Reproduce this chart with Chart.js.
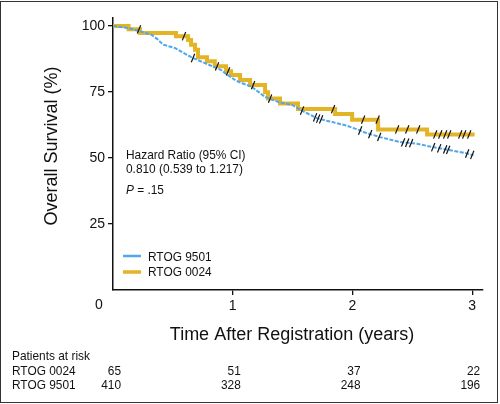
<!DOCTYPE html>
<html>
<head>
<meta charset="utf-8">
<script src="https://cdn.jsdelivr.net/npm/chart.js@4/dist/chart.umd.min.js"></script>
<style>
  body { margin: 0; background: #fff; }
  #wrap { position: relative; width: 500px; height: 404px; }
  #frame { position: absolute; left: 0; top: 1px; width: 498px; height: 402px; box-sizing: border-box; border: 1.5px solid #333; pointer-events: none; }
  canvas { position: absolute; left: 0; top: 0; }
</style>
</head>
<body>
<div id="wrap">
  <canvas id="km" width="500" height="404"></canvas>
  <div id="frame"></div>
</div>
<script>
// RTOG 0024 step curve: time of drop (years) and survival after it (%)
const yellowTimes = [0, 0.13, 0.226, 0.526, 0.627, 0.652, 0.685, 0.71, 0.785, 0.85, 0.944, 0.986, 1.061, 1.145, 1.27, 1.295, 1.395, 1.545, 1.855, 1.997, 2.214, 2.623, 3.02]
const yellowSurv = [100, 98.7, 97.3, 96.1, 94.7, 92.9, 91.0, 88.1, 86.6, 84.7, 82.8, 81.4, 79.5, 77.6, 74.9, 72.5, 70.6, 68.5, 66.6, 64.5, 60.8, 58.9, 58.9]
// RTOG 9501, read along the (many small steps) curve
const blueTimes = [0, 0.13, 0.21, 0.32, 0.37, 0.42, 0.52, 0.6, 0.67, 0.8, 0.9, 0.94, 1.03, 1.16, 1.27, 1.38, 1.5, 1.6, 1.71, 1.83, 1.94, 2.06, 2.09, 2.23, 2.4, 2.54, 2.67, 2.82, 2.95, 3.01]
const blueSurv = [100, 99.2, 98.2, 96.7, 95.0, 92.9, 91.6, 89.5, 87.8, 85.3, 83.4, 82.0, 79.2, 76.9, 73.1, 71.2, 70.0, 67.4, 64.9, 63.6, 62.4, 60.5, 59.8, 57.9, 56.0, 55.4, 54.1, 52.9, 51.8, 51.0]
// censoring marks (years)
const yellowCensor = [0.217, 0.593, 0.869, 0.961, 1.17, 1.312, 1.838, 2.089, 2.21, 2.373, 2.457, 2.549, 2.691, 2.733, 2.774, 2.808, 2.9, 2.933, 2.975]
const blueCensor = [0.668, 1.579, 1.688, 1.713, 1.738, 2.064, 2.148, 2.223, 2.423, 2.457, 2.49, 2.674, 2.724, 2.774, 2.799, 2.958, 3.0]

const xTicks = [0, 1, 2, 3]
const yTicks = [25, 50, 75, 100]
const riskTimes = [0, 1, 2, 3]
const risk0024 = [65, 51, 37, 22]
const risk9501 = [410, 328, 248, 196]

const YELLOW = '#e3b526'
const BLUE = '#52a6ea'
const FONT = "'Liberation Sans', Arial, sans-serif"

const stepAt = (ts, ss, t) => {
  let v = ss[0]
  for (let i = 0; i < ts.length; i++) if (ts[i] <= t) v = ss[i]
  return v
}
const lineAt = (ts, ss, t) => {
  for (let i = 1; i < ts.length; i++) {
    if (t <= ts[i]) {
      const f = (t - ts[i - 1]) / (ts[i] - ts[i - 1])
      return ss[i - 1] + f * (ss[i] - ss[i - 1])
    }
  }
  return ss[ss.length - 1]
}

// the original uses a condensed face, so squeeze the text a bit
const SQ = 0.88
const narrowText = (c, txt, x, y) => {
  c.save()
  c.translate(x, y)
  c.scale(SQ, 1)
  c.fillText(txt, 0, 0)
  const w = c.measureText(txt).width * SQ
  c.restore()
  return w
}

const extras = {
  id: 'extras',
  afterDraw(chart) {
    const c = chart.ctx
    const xs = chart.scales.x
    c.save()
    c.fillStyle = '#111'
    c.textBaseline = 'middle'

    // axis titles
    c.font = '18px ' + FONT
    c.textAlign = 'center'
    c.fillText('Time After Registration (years)', 292, 335)
    c.save()
    c.translate(52, 146)
    c.rotate(-Math.PI / 2)
    c.fillText('Overall Survival (%)', 0, 0)
    c.restore()

    // shared origin label
    c.font = '14px ' + FONT
    c.fillText('0', xs.getPixelForValue(0) - 14, 305)

    // legend
    c.lineWidth = 2.5
    c.strokeStyle = BLUE
    c.beginPath(); c.moveTo(123, 256); c.lineTo(141, 256); c.stroke()
    c.lineWidth = 3.5
    c.strokeStyle = YELLOW
    c.beginPath(); c.moveTo(123, 272); c.lineTo(141, 272); c.stroke()
    c.font = '13.5px ' + FONT
    c.textAlign = 'left'
    narrowText(c, 'RTOG 9501', 148, 257)
    narrowText(c, 'RTOG 0024', 148, 272)

    // hazard ratio note
    narrowText(c, 'Hazard Ratio (95% CI)', 126, 155)
    narrowText(c, '0.810 (0.539 to 1.217)', 126, 169)
    c.font = 'italic 13.5px ' + FONT
    const pw = narrowText(c, 'P', 126, 190)
    c.font = '13.5px ' + FONT
    narrowText(c, ' = .15', 126 + pw, 190)

    // patients at risk
    narrowText(c, 'Patients at risk', 12, 356)
    narrowText(c, 'RTOG 0024', 12, 371)
    narrowText(c, 'RTOG 9501', 12, 385)
    c.textAlign = 'right'
    riskTimes.forEach((t, i) => {
      const px = xs.getPixelForValue(t) + 8
      narrowText(c, String(risk0024[i]), px, 371)
      narrowText(c, String(risk9501[i]), px, 385)
    })
    c.restore()
  }
}

const censorStyle = {
  showLine: false,
  pointStyle: 'line',
  rotation: -68,
  pointRadius: 4.5,
  pointHoverRadius: 4.5,
  pointBorderColor: '#111',
  pointBorderWidth: 1.2,
  borderColor: '#111',
  order: 0
}

new Chart(document.getElementById('km'), {
  type: 'line',
  data: {
    datasets: [
      Object.assign({
        label: 'RTOG 0024 censored',
        data: yellowCensor.map(t => ({ x: t, y: stepAt(yellowTimes, yellowSurv, t) }))
      }, censorStyle),
      Object.assign({
        label: 'RTOG 9501 censored',
        data: blueCensor.map(t => ({ x: t, y: lineAt(blueTimes, blueSurv, t) }))
      }, censorStyle),
      {
        label: 'RTOG 9501',
        data: blueTimes.map((t, i) => ({ x: t, y: blueSurv[i] })),
        borderColor: BLUE,
        borderWidth: 2,
        borderDash: [4, 1.5],
        pointRadius: 0,
        tension: 0,
        fill: false,
        order: 1
      },
      {
        label: 'RTOG 0024',
        data: yellowTimes.map((t, i) => ({ x: t, y: yellowSurv[i] })),
        borderColor: YELLOW,
        borderWidth: 4,
        stepped: 'before',
        pointRadius: 0,
        fill: false,
        order: 2
      }
    ]
  },
  options: {
    responsive: false,
    animation: false,
    layout: { padding: { top: 18, right: 17, left: 0, bottom: 0 } },
    plugins: { legend: { display: false }, tooltip: { enabled: false } },
    scales: {
      x: {
        type: 'linear',
        min: 0,
        max: 3.09,
        afterBuildTicks: s => { s.ticks = xTicks.map(v => ({ value: v })) },
        afterFit: s => { s.height = 114 },
        ticks: {
          callback: v => (v === 0 ? '' : v),
          color: '#111',
          font: { family: FONT, size: 14 },
          padding: 3,
          maxRotation: 0
        },
        grid: {
          drawOnChartArea: false,
          drawTicks: true,
          tickLength: 5,
          lineWidth: 1.3,
          color: ctx => (ctx.tick && ctx.tick.value === 0 ? 'rgba(0,0,0,0)' : '#111')
        },
        border: { display: true, color: '#111', width: 1.5 }
      },
      y: {
        min: 0,
        max: 103,
        afterBuildTicks: s => { s.ticks = yTicks.map(v => ({ value: v })) },
        afterFit: s => { s.width = 113 },
        ticks: {
          color: '#111',
          font: { family: FONT, size: 14 },
          padding: 3
        },
        grid: {
          drawOnChartArea: false,
          drawTicks: true,
          tickLength: 5,
          lineWidth: 1.3,
          color: '#111'
        },
        border: { display: true, color: '#111', width: 1.5 }
      }
    }
  },
  plugins: [extras]
})
</script>
</body>
</html>
